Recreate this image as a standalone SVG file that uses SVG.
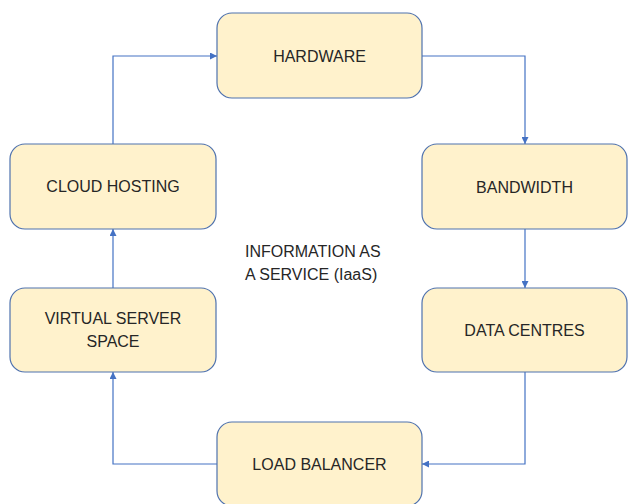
<svg xmlns="http://www.w3.org/2000/svg" width="628" height="504" viewBox="0 0 628 504">
<defs>
<style>
.box{fill:#FFF2CC;stroke:#4F72AE;stroke-width:1.2}
.t{font-family:"Liberation Sans",Arial,sans-serif;font-size:16px;fill:#262626;text-anchor:middle;dominant-baseline:central}
.c{fill:none;stroke:#4472C4;stroke-width:1.2;marker-end:url(#ah)}
</style>
<marker id="ah" viewBox="0 0 10 10" refX="10" refY="5" markerWidth="7" markerHeight="7" markerUnits="userSpaceOnUse" orient="auto">
<path d="M0,0 L10,5 L0,10 z" fill="#4472C4"/>
</marker>
</defs>
<rect width="628" height="504" fill="#fff"/>
<g id="connectors">
<path class="c" d="M113,144 V56 H217"/>
<path class="c" d="M422,56 H525 V144"/>
<path class="c" d="M525,229 V288"/>
<path class="c" d="M525,372 V464 H422"/>
<path class="c" d="M217,464 H113 V372"/>
<path class="c" d="M113,288 V229"/>
</g>
<g id="hardware"><rect class="box" x="217" y="13" width="205" height="85" rx="15"/><text class="t" x="319.5" y="56">HARDWARE</text></g>
<g id="bandwidth"><rect class="box" x="422" y="144" width="205" height="85" rx="15"/><text class="t" x="524.5" y="187">BANDWIDTH</text></g>
<g id="data-centres"><rect class="box" x="422" y="288" width="205" height="84" rx="15"/><text class="t" x="524.5" y="330">DATA CENTRES</text></g>
<g id="load-balancer"><rect class="box" x="217" y="422" width="205" height="84" rx="15"/><text class="t" x="319.5" y="464">LOAD BALANCER</text></g>
<g id="virtual-server-space"><rect class="box" x="10" y="288" width="206" height="84" rx="15"/><text class="t" x="113" y="318">VIRTUAL SERVER</text><text class="t" x="113" y="341">SPACE</text></g>
<g id="cloud-hosting"><rect class="box" x="10" y="144" width="206" height="85" rx="15"/><text class="t" x="113" y="186">CLOUD HOSTING</text></g>
<g id="center-label"><text class="t" x="245" y="251" style="text-anchor:start">INFORMATION AS</text><text class="t" x="245" y="274" style="text-anchor:start">A SERVICE (IaaS)</text></g>
</svg>
